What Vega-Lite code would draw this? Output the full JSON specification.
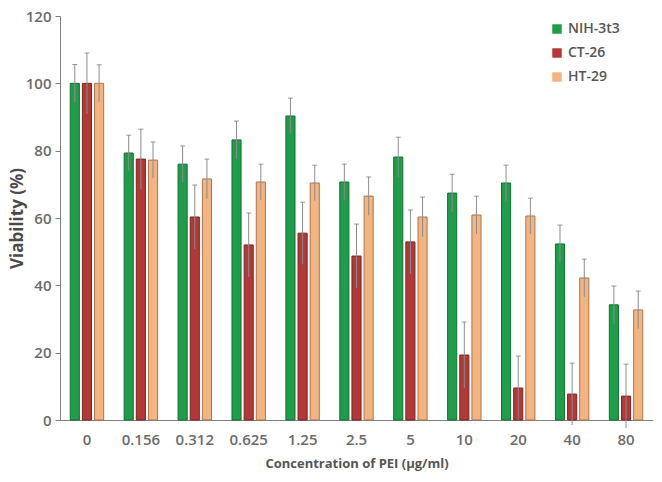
{
  "$schema": "https://vega.github.io/schema/vega-lite/v6.json",
  "width": 593,
  "height": 404,
  "autosize": {"type": "none"},
  "padding": {"left": 60, "top": 16, "right": 9, "bottom": 62},
  "background": "white",
  "data": {
    "values": [
      {"conc": "0", "line": "NIH-3t3", "v": 100, "e": 5.6},
      {"conc": "0", "line": "CT-26", "v": 100, "e": 9},
      {"conc": "0", "line": "HT-29", "v": 100, "e": 5.5},
      {"conc": "0.156", "line": "NIH-3t3", "v": 79.3, "e": 5.3},
      {"conc": "0.156", "line": "CT-26", "v": 77.5, "e": 8.9},
      {"conc": "0.156", "line": "HT-29", "v": 77.2, "e": 5.4},
      {"conc": "0.312", "line": "NIH-3t3", "v": 76, "e": 5.4},
      {"conc": "0.312", "line": "CT-26", "v": 60.3, "e": 9.5},
      {"conc": "0.312", "line": "HT-29", "v": 71.6, "e": 5.9},
      {"conc": "0.625", "line": "NIH-3t3", "v": 83.2, "e": 5.6},
      {"conc": "0.625", "line": "CT-26", "v": 52, "e": 9.5},
      {"conc": "0.625", "line": "HT-29", "v": 70.7, "e": 5.3},
      {"conc": "1.25", "line": "NIH-3t3", "v": 90.3, "e": 5.3},
      {"conc": "1.25", "line": "CT-26", "v": 55.5, "e": 9.2},
      {"conc": "1.25", "line": "HT-29", "v": 70.4, "e": 5.3},
      {"conc": "2.5", "line": "NIH-3t3", "v": 70.7, "e": 5.3},
      {"conc": "2.5", "line": "CT-26", "v": 48.7, "e": 9.5},
      {"conc": "2.5", "line": "HT-29", "v": 66.5, "e": 5.7},
      {"conc": "5", "line": "NIH-3t3", "v": 78.1, "e": 5.9},
      {"conc": "5", "line": "CT-26", "v": 52.9, "e": 9.5},
      {"conc": "5", "line": "HT-29", "v": 60.3, "e": 5.9},
      {"conc": "10", "line": "NIH-3t3", "v": 67.4, "e": 5.6},
      {"conc": "10", "line": "CT-26", "v": 19.3, "e": 9.8},
      {"conc": "10", "line": "HT-29", "v": 60.9, "e": 5.6},
      {"conc": "20", "line": "NIH-3t3", "v": 70.4, "e": 5.3},
      {"conc": "20", "line": "CT-26", "v": 9.5, "e": 9.5},
      {"conc": "20", "line": "HT-29", "v": 60.6, "e": 5.3},
      {"conc": "40", "line": "NIH-3t3", "v": 52.3, "e": 5.6},
      {"conc": "40", "line": "CT-26", "v": 7.7, "e": 9.2},
      {"conc": "40", "line": "HT-29", "v": 42.2, "e": 5.6},
      {"conc": "80", "line": "NIH-3t3", "v": 34.2, "e": 5.6},
      {"conc": "80", "line": "CT-26", "v": 7.1, "e": 9.5},
      {"conc": "80", "line": "HT-29", "v": 32.7, "e": 5.6}
    ]
  },
  "transform": [
    {"calculate": "datum.v + datum.e", "as": "hi"},
    {"calculate": "datum.v - datum.e", "as": "lo"}
  ],
  "encoding": {
    "x": {
      "field": "conc",
      "type": "nominal",
      "sort": null,
      "scale": {"paddingInner": 0.38, "paddingOuter": 0.19},
      "title": "Concentration of PEI (µg/ml)",
      "axis": {
        "labelAngle": 0,
        "ticks": false,
        "labelPadding": 12,
        "labelFontSize": 15,
        "labelFont": "Open Sans",
        "labelFontWeight": 600,
        "labelColor": "#6b6b6b",
        "titleFont": "Open Sans",
        "titleFontSize": 13,
        "titleFontWeight": "bold",
        "titleColor": "#555555",
        "titlePadding": 10,
        "domainColor": "#7f7f7f"
      }
    },
    "xOffset": {
      "field": "line",
      "type": "nominal",
      "sort": ["NIH-3t3", "CT-26", "HT-29"],
      "scale": {"paddingInner": 0.25}
    }
  },
  "layer": [
    {
      "mark": {"type": "bar", "strokeWidth": 1},
      "encoding": {
        "y": {
          "field": "v",
          "type": "quantitative",
          "scale": {"domain": [0, 120], "nice": false},
          "title": "Viability (%)",
          "axis": {
            "values": [0, 20, 40, 60, 80, 100, 120],
            "grid": false,
            "tickSize": 5,
            "tickColor": "#7f7f7f",
            "domainColor": "#7f7f7f",
            "labelFontSize": 15,
            "labelFont": "Open Sans",
            "labelFontWeight": 600,
            "labelColor": "#6b6b6b",
            "labelPadding": 4,
            "titleFont": "Open Sans",
            "titleFontSize": 17,
            "titleFontWeight": "bold",
            "titleColor": "#4a4a4a",
            "titleX": -43,
            "titleBaseline": "middle"
          }
        },
        "color": {
          "field": "line",
          "type": "nominal",
          "sort": ["NIH-3t3", "CT-26", "HT-29"],
          "scale": {
            "domain": ["NIH-3t3", "CT-26", "HT-29"],
            "range": ["#1f9e4a", "#b53838", "#f4b47f"]
          },
          "legend": {
            "title": null,
            "orient": "none",
            "legendX": 490,
            "legendY": 6,
            "symbolType": "square",
            "symbolSize": 90,
            "symbolStrokeWidth": 0,
            "rowPadding": 10,
            "labelFont": "Open Sans",
            "labelFontSize": 14,
            "labelFontWeight": 600,
            "labelColor": "#555555",
            "labelOffset": 4
          }
        },
        "stroke": {
          "field": "line",
          "type": "nominal",
          "scale": {
            "domain": ["NIH-3t3", "CT-26", "HT-29"],
            "range": ["#127034", "#7e2323", "#a9764e"]
          },
          "legend": null
        }
      }
    },
    {
      "mark": {"type": "rule", "color": "#8c8c8c", "strokeWidth": 1},
      "encoding": {
        "y": {"field": "lo", "type": "quantitative"},
        "y2": {"field": "hi"}
      }
    },
    {
      "mark": {"type": "tick", "color": "#6f6f6f", "thickness": 1, "size": 5, "orient": "horizontal"},
      "encoding": {
        "y": {"field": "hi", "type": "quantitative"}
      }
    }
  ],
  "config": {
    "view": {"stroke": null}
  }
}
